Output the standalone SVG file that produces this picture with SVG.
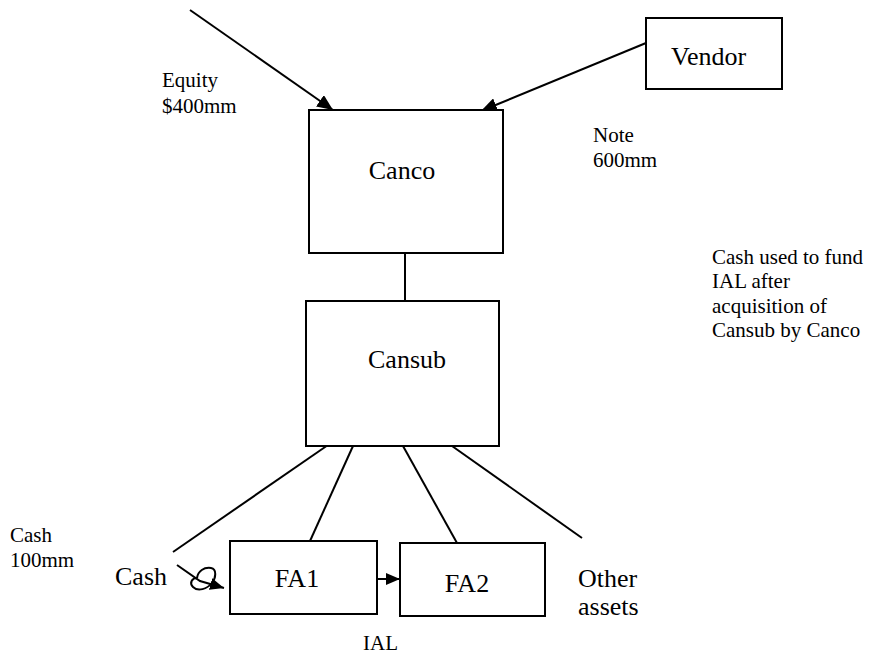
<svg xmlns="http://www.w3.org/2000/svg" width="870" height="656" viewBox="0 0 870 656">
  <style>
    .box { fill: #ffffff; stroke: #000000; stroke-width: 2; }
    .link { fill: none; stroke: #000000; stroke-width: 2; }
    .big { font-family: "Liberation Serif", "DejaVu Serif", serif; font-size: 26px; fill: #000000; }
    .small { font-family: "Liberation Serif", "DejaVu Serif", serif; font-size: 21px; fill: #000000; }
  </style>
  <defs>
    <marker id="head" markerUnits="userSpaceOnUse" markerWidth="16" markerHeight="14" refX="16" refY="7" orient="auto">
      <path d="M0,0 L16,7 L0,14 Z" fill="#000000"/>
    </marker>
    <marker id="headSmall" markerUnits="userSpaceOnUse" markerWidth="14" markerHeight="12" refX="14" refY="6" orient="auto">
      <path d="M0,0 L14,6 L0,12 Z" fill="#000000"/>
    </marker>
  </defs>

  <rect width="870" height="656" fill="#ffffff"/>

  <!-- connectors -->
  <g id="connectors">
    <line class="link" x1="190" y1="10" x2="333" y2="110" marker-end="url(#head)"/>
    <line class="link" x1="646" y1="43" x2="481" y2="111" marker-end="url(#head)"/>
    <line class="link" x1="405" y1="253" x2="405" y2="301"/>
    <line class="link" x1="328" y1="445" x2="173" y2="552"/>
    <line class="link" x1="353" y1="446" x2="310" y2="541"/>
    <line class="link" x1="403" y1="446" x2="457" y2="543"/>
    <line class="link" x1="452" y1="446" x2="582" y2="538"/>
    <line class="link" x1="377" y1="579" x2="400" y2="579" marker-end="url(#headSmall)"/>
    <!-- hand-drawn cash arrow with loop -->
    <path class="link" d="M177,565 L200,581 L224,588" marker-end="url(#headSmall)" stroke-width="1.8"/>
    <path class="link" stroke-width="1.6" d="M197,578 C198,571 204,567 211,568 C217,569 216,578 212,583 C207,589 198,592 193,587 C189,583 192,578 197,578"/>
  </g>

  <!-- nodes -->
  <g id="vendor">
    <rect class="box" x="646" y="18" width="136" height="71"/>
    <text class="big" x="671" y="65">Vendor</text>
  </g>
  <g id="canco">
    <rect class="box" x="309" y="110" width="194" height="143"/>
    <text class="big" x="402" y="179" text-anchor="middle">Canco</text>
  </g>
  <g id="cansub">
    <rect class="box" x="306" y="301" width="193" height="145"/>
    <text class="big" x="407" y="368" text-anchor="middle">Cansub</text>
  </g>
  <g id="fa1">
    <rect class="box" x="230" y="541" width="147" height="73"/>
    <text class="big" x="297" y="587" text-anchor="middle">FA1</text>
  </g>
  <g id="fa2">
    <rect class="box" x="400" y="543" width="145" height="73"/>
    <text class="big" x="467" y="592" text-anchor="middle">FA2</text>
  </g>
  <g id="cash">
    <text class="big" x="115" y="585">Cash</text>
  </g>
  <g id="other-assets">
    <text class="big" x="578" y="587" font-size="24">Other</text>
    <text class="big" x="578" y="615" font-size="24">assets</text>
  </g>

  <!-- labels -->
  <g id="labels">
    <text class="small" x="162" y="87">Equity</text>
    <text class="small" x="162" y="113">$400mm</text>
    <text class="small" x="593" y="142">Note</text>
    <text class="small" x="593" y="167">600mm</text>
    <text class="small" x="712" y="264">Cash used to fund</text>
    <text class="small" x="712" y="288">IAL after</text>
    <text class="small" x="712" y="313">acquisition of</text>
    <text class="small" x="712" y="337">Cansub by Canco</text>
    <text class="small" x="10" y="542">Cash</text>
    <text class="small" x="10" y="567">100mm</text>
    <text class="small" x="363" y="650">IAL</text>
  </g>
</svg>
